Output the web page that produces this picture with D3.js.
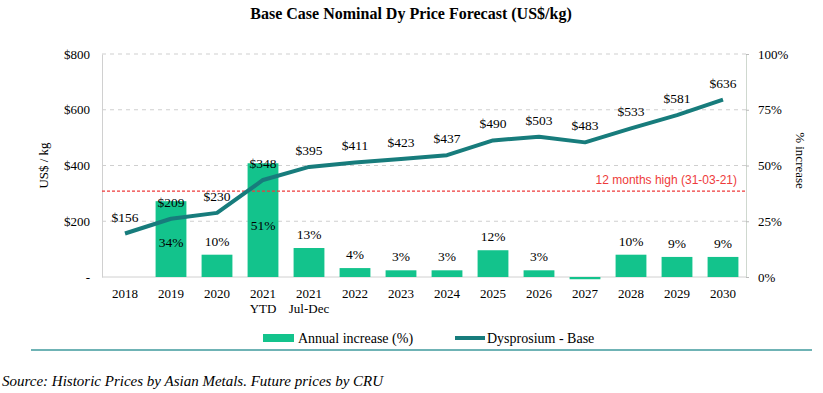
<!DOCTYPE html>
<html>
<head>
<meta charset="utf-8">
<script src="https://cdn.jsdelivr.net/npm/d3@7"></script>
<style>
  body { margin: 0; background: #fff; }
  svg { display: block; font-family: "Liberation Serif", "Times New Roman", serif; }
</style>
</head>
<body>
<svg id="chart" width="823" height="393"></svg>
<script>
// categories on the x axis (second line used for 2021 split)
const categories = ["2018", "2019", "2020", "2021 YTD", "2021 Jul-Dec", "2022", "2023", "2024", "2025", "2026", "2027", "2028", "2029", "2030"]
const catLine1 = ["2018", "2019", "2020", "2021", "2021", "2022", "2023", "2024", "2025", "2026", "2027", "2028", "2029", "2030"]
const catLine2 = ["", "", "", "YTD", "Jul-Dec", "", "", "", "", "", "", "", "", ""]
// Dysprosium - Base price, US$/kg
const priceValues = [156, 209, 230, 348, 395, 411, 423, 437, 490, 503, 483, 533, 581, 636]
// Annual increase (%)
const increaseValues = [null, 34, 10, 51, 13, 4, 3, 3, 12, 3, -1, 10, 9, 9]
const increaseLabels = ["", "34%", "10%", "51%", "13%", "4%", "3%", "3%", "12%", "3%", "", "10%", "9%", "9%"]
const leftTicks = [0, 200, 400, 600, 800]
const rightTicks = [0, 25, 50, 75, 100]
const highValue = 308

const barColor = "#13c38c"
const lineColor = "#177c7c"

let svg = d3.select("#chart")
let margin = { left: 102, right: 77, top: 54, bottom: 116 }
let width = 823 - margin.left - margin.right
let height = 393 - margin.top - margin.bottom

// title
svg.append("text")
  .attr("x", 411).attr("y", 19)
  .attr("text-anchor", "middle")
  .attr("font-weight", "bold")
  .attr("font-size", "16px")
  .text("Base Case Nominal Dy Price Forecast (US$/kg)")

let pane = svg.append("g").attr("transform", `translate(${margin.left}, ${margin.top})`)

let x = d3.scaleBand().domain(categories).range([0, width]).paddingInner(0.33).paddingOuter(0.165)
let y = d3.scaleLinear().domain([0, 800]).range([height, 0])
let y2 = d3.scaleLinear().domain([0, 100]).range([height, 0])

// grid lines
pane.selectAll(".grid")
  .data(leftTicks.filter(d => d > 0))
  .enter()
  .append("line")
  .attr("x1", 0).attr("x2", width)
  .attr("y1", d => y(d)).attr("y2", d => y(d))
  .attr("stroke", "#cfcfcf")
  .attr("stroke-dasharray", "4,4")

// left axis
let yAxis = d3.axisLeft(y).tickValues(leftTicks).tickSize(0).tickPadding(12)
  .tickFormat(d => d === 0 ? "-" : "$" + d)
let yg = pane.append("g").call(yAxis)
yg.select(".domain").attr("stroke", "#d0d0d0")
yg.selectAll("text").attr("font-size", "13px").attr("font-family", "Liberation Serif")

// right axis
let y2Axis = d3.axisRight(y2).tickValues(rightTicks).tickSize(3).tickPadding(9)
  .tickFormat(d => d + "%")
let y2g = pane.append("g").attr("transform", `translate(${width}, 0)`).call(y2Axis)
y2g.select(".domain").attr("stroke", "#cfd8cf")
y2g.selectAll(".tick line").attr("stroke", "#bbb")
y2g.selectAll("text").attr("font-size", "13px").attr("font-family", "Liberation Serif")

// bottom baseline
pane.append("line")
  .attr("x1", 0).attr("x2", width)
  .attr("y1", height).attr("y2", height)
  .attr("stroke", "#d0d0d0")

// axis titles
svg.append("text")
  .attr("transform", `translate(48, ${margin.top + height / 2}) rotate(-90)`)
  .attr("text-anchor", "middle")
  .attr("font-size", "13px")
  .text("US$ / kg")
svg.append("text")
  .attr("transform", `translate(796, ${margin.top + height / 2 - 5}) rotate(90)`)
  .attr("text-anchor", "middle")
  .attr("font-size", "13px")
  .text("% increase")

// bars
let barData = categories.map((c, i) => ({ c: c, v: increaseValues[i], label: increaseLabels[i] }))
  .filter(d => d.v !== null)
pane.selectAll(".bar")
  .data(barData)
  .enter()
  .append("rect")
  .attr("x", d => x(d.c))
  .attr("y", d => y2(Math.max(0, d.v)))
  .attr("width", x.bandwidth())
  .attr("height", d => Math.abs(y2(d.v) - y2(0)))
  .attr("fill", barColor)

// bar labels (large bars labelled inside)
pane.selectAll(".barLabel")
  .data(barData.filter(d => d.label))
  .enter()
  .append("text")
  .attr("x", d => x(d.c) + x.bandwidth() / 2)
  .attr("y", d => d.v > 30 ? y2(d.v * 0.45) + 4 : y2(d.v) - 9)
  .attr("text-anchor", "middle")
  .attr("font-size", "13.5px")
  .text(d => d.label)

// 12 months high
pane.append("line")
  .attr("x1", 0).attr("x2", width)
  .attr("y1", y(highValue)).attr("y2", y(highValue))
  .attr("stroke", "#ee3b3b")
  .attr("stroke-width", 1.2)
  .attr("stroke-dasharray", "3,2")
pane.append("text")
  .attr("x", width - 9).attr("y", y(highValue) - 7)
  .attr("text-anchor", "end")
  .attr("font-family", "Liberation Sans, sans-serif")
  .attr("font-size", "12px")
  .attr("fill", "#ee3b3b")
  .text("12 months high (31-03-21)")

// price line
let line = d3.line()
  .x((d, i) => x(categories[i]) + x.bandwidth() / 2)
  .y(d => y(d))
pane.append("path")
  .datum(priceValues)
  .attr("d", line)
  .attr("fill", "none")
  .attr("stroke", lineColor)
  .attr("stroke-width", 4)
  .attr("stroke-linejoin", "round")

pane.selectAll(".priceLabel")
  .data(priceValues)
  .enter()
  .append("text")
  .attr("x", (d, i) => x(categories[i]) + x.bandwidth() / 2)
  .attr("y", d => y(d) - 12)
  .attr("text-anchor", "middle")
  .attr("font-size", "13.5px")
  .text(d => "$" + d)

// x labels
let xl = pane.selectAll(".xLabel")
  .data(categories)
  .enter()
  .append("text")
  .attr("x", d => x(d) + x.bandwidth() / 2)
  .attr("y", height + 21)
  .attr("text-anchor", "middle")
  .attr("font-size", "13px")
xl.append("tspan").text((d, i) => catLine1[i])
xl.append("tspan")
  .attr("x", d => x(d) + x.bandwidth() / 2)
  .attr("dy", 15)
  .text((d, i) => catLine2[i])

// legend
let lg = svg.append("g").attr("transform", "translate(263, 338)")
lg.append("rect").attr("x", 0).attr("y", -4).attr("width", 31).attr("height", 8).attr("fill", barColor)
lg.append("text").attr("x", 35).attr("y", 5).attr("font-size", "14px").text("Annual increase (%)")
lg.append("line").attr("x1", 192).attr("x2", 222).attr("y1", 0).attr("y2", 0)
  .attr("stroke", lineColor).attr("stroke-width", 4)
lg.append("text").attr("x", 224).attr("y", 5).attr("font-size", "14px").text("Dysprosium - Base")

// separator
svg.append("line")
  .attr("x1", 31).attr("x2", 812)
  .attr("y1", 350).attr("y2", 350)
  .attr("stroke", "#6fb3b5")
  .attr("stroke-width", 2)

// source
svg.append("text")
  .attr("x", 2).attr("y", 386)
  .attr("font-style", "italic")
  .attr("font-size", "15px")
  .text("Source: Historic Prices by Asian Metals. Future prices by CRU")
</script>
</body>
</html>
